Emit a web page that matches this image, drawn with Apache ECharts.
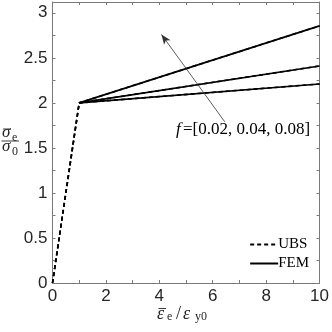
<!DOCTYPE html>
<html>
<head>
<meta charset="utf-8">
<script src="https://cdn.jsdelivr.net/npm/echarts@6/dist/echarts.min.js"></script>
<style>
html,body{margin:0;padding:0;background:#fff;}
#main{width:332px;height:332px;}
</style>
</head>
<body>
<div id="main"></div>
<script>
// strain points (normalised) and stress of each curve
var strainX = [0, 1, 10];
var ubsF002 = [0, 2, 2.21];
var ubsF004 = [0, 2, 2.41];
var ubsF008 = [0, 2, 2.855];
var femX = [1, 10];
var femF002 = [2, 2.21];
var femF004 = [2, 2.41];
var femF008 = [2, 2.855];
var arrowFrom = [6.45, 1.79];
var arrowTo = [4.08, 2.76];

function pairs(xs, ys) {
	var out = [];
	for (var i = 0; i < xs.length; i++) {
		out.push([xs[i], ys[i]]);
	}
	return out;
}

var dom = document.getElementById('main');
var myChart = echarts.init(dom, null, {renderer: 'canvas'});

var axisCol = '#7a7a7a';
var txtCol = '#262626';

function boxAxis(pos, isX) {
	var a = {
		type: 'value',
		position: pos,
		min: 0,
		max: isX ? 10 : 3.12,
		interval: isX ? 2 : 0.5,
		axisLine: {show: true, onZero: false, lineStyle: {color: axisCol, width: 1}},
		axisTick: {show: true, inside: true, length: 3, lineStyle: {color: axisCol}},
		minorTick: {show: true, splitNumber: 2, length: 3, lineStyle: {color: axisCol}},
		splitLine: {show: false},
		axisLabel: {show: false}
	};
	return a;
}

var xMain = boxAxis('bottom', true);
xMain.axisLabel = {show: true, color: txtCol, fontFamily: 'Liberation Sans', fontSize: 17, margin: 5};
var xTop = boxAxis('top', true);
var yMain = boxAxis('left', false);
yMain.axisLabel = {show: true, color: txtCol, fontFamily: 'Liberation Sans', fontSize: 17, margin: 5, showMaxLabel: false};
var yRight = boxAxis('right', false);

var seriesList = [];
var ubsData = [ubsF002, ubsF004, ubsF008];
for (var k = 0; k < ubsData.length; k++) {
	seriesList.push({
		name: 'UBS', type: 'line', symbol: 'none', animation: false,
		data: pairs(strainX, ubsData[k]),
		itemStyle: {color: '#000'},
		lineStyle: {color: '#000', width: 1.6, type: [4, 3]}
	});
}
var femData = [femF002, femF004, femF008];
for (var k = 0; k < femData.length; k++) {
	seriesList.push({
		name: 'FEM', type: 'line', symbol: 'none', animation: false,
		data: pairs(femX, femData[k]),
		itemStyle: {color: '#000'},
		lineStyle: {color: '#000', width: 1.6, type: 'solid'}
	});
}
seriesList.push({
	type: 'line', data: [], animation: false,
	markLine: {
		silent: true, animation: false,
		symbol: ['none', 'arrow'], symbolSize: [6, 10],
		label: {show: false},
		lineStyle: {color: '#333', width: 0.8, type: 'solid'},
		data: [[{coord: arrowFrom}, {coord: arrowTo}]]
	}
});

var serif = 'Liberation Serif';
function sub(t, l, tp, fs, col) {
	return {type: 'text', left: l, top: tp, style: {text: t, fontFamily: serif, fontSize: fs, fill: col || txtCol}};
}
function ital(t, l, tp, fs, col) {
	return {type: 'text', left: l, top: tp, style: {text: t, fontFamily: serif, fontStyle: 'italic', fontSize: fs, fill: col || txtCol}};
}
function bar(x1, x2, y) {
	return {type: 'line', shape: {x1: x1, y1: y, x2: x2, y2: y}, style: {stroke: txtCol, lineWidth: 0.9}};
}

var option = {
	animation: false,
	grid: {left: 52.5, right: 10.5, top: 2, bottom: 49},
	xAxis: [xMain, xTop],
	yAxis: [yMain, yRight],
	legend: {
		orient: 'vertical', right: 18, bottom: 56,
		itemWidth: 28, itemHeight: 8, itemGap: 4,
		data: ['UBS', 'FEM'],
		itemStyle: {opacity: 0},
		textStyle: {fontFamily: serif, fontSize: 15, color: '#000', padding: [0, 0, 0, -5]}
	},
	graphic: [
		// annotation
		ital('f', 176, 121, 17, '#000'),
		sub('=[0.02, 0.04, 0.08]', 183, 121, 17, '#000'),
		// x axis title
		ital('ε', 157, 305, 18),
		bar(158.5, 166, 308.5),
		sub('e', 167, 311, 12),
		sub('/', 176, 305, 18),
		ital('ε', 183, 305, 18),
		sub('y0', 195, 311, 12),
		// y axis title
		ital('σ', 2, 124, 17),
		bar(3, 11, 129),
		sub('e', 12, 132, 12),
		bar(1.5, 19, 141),
		ital('σ', 2, 138, 17),
		sub('0', 12, 146, 12)
	],
	series: seriesList
};
if (option && typeof option === "object") {
	myChart.setOption(option, true);
}
</script>
</body>
</html>
